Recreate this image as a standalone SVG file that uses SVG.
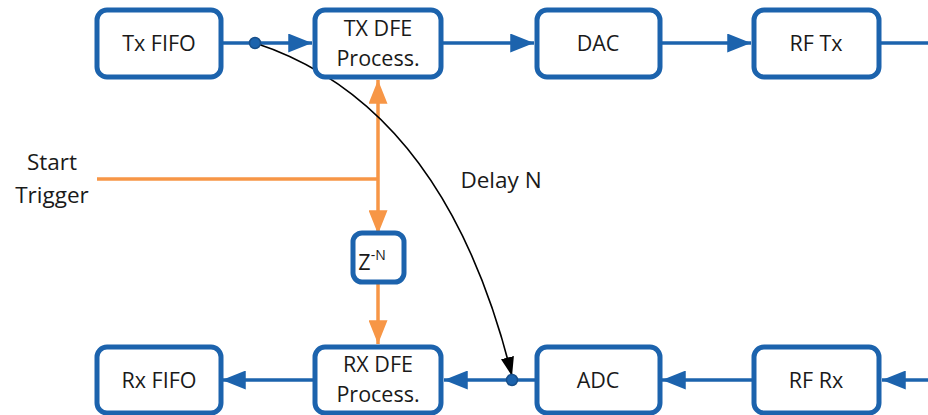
<svg xmlns="http://www.w3.org/2000/svg" width="928" height="415" viewBox="0 0 928 415">
  <style>
    .box { fill: #ffffff; stroke: #1c63ad; stroke-width: 5; }
    .lbl { font-family: "Open Sans", "Liberation Sans", sans-serif; font-size: 21.5px; fill: #1a1a1a; text-anchor: middle; }
    .big { font-size: 22.5px; }
    .blue { stroke: #1c63ad; stroke-width: 3.5; fill: none; }
    .orange { stroke: #f79646; stroke-width: 3.5; fill: none; }
    .curve { stroke: #000000; stroke-width: 1.6; fill: none; }
    .dot { fill: #1c63ad; stroke: #174f8a; stroke-width: 1.5; }
  </style>
  <defs>
    <marker id="arrBlue" viewBox="0 0 20 16" refX="20" refY="8" markerWidth="24" markerHeight="19" markerUnits="userSpaceOnUse" orient="auto">
      <path d="M0,0 L20,8 L0,16 Z" fill="#1c63ad"/>
    </marker>
    <marker id="arrOrange" viewBox="0 0 20 16" refX="20" refY="8" markerWidth="24" markerHeight="19" markerUnits="userSpaceOnUse" orient="auto">
      <path d="M0,0 L20,8 L0,16 Z" fill="#f79646"/>
    </marker>
    <marker id="arrBlack" viewBox="0 0 20 14" refX="20" refY="7" markerWidth="19" markerHeight="14" markerUnits="userSpaceOnUse" orient="auto">
      <path d="M0,0 L20,7 L0,14 Z" fill="#000000"/>
    </marker>
  </defs>

  <!-- connectors -->
  <g id="connectors">
    <!-- transmit chain -->
    <line class="blue" x1="222" y1="43" x2="312" y2="43" marker-end="url(#arrBlue)"/>
    <line class="blue" x1="442" y1="43" x2="534" y2="43" marker-end="url(#arrBlue)"/>
    <line class="blue" x1="660" y1="43" x2="751" y2="43" marker-end="url(#arrBlue)"/>
    <line class="blue" x1="880" y1="43" x2="928" y2="43"/>
    <!-- receive chain -->
    <line class="blue" x1="928" y1="380" x2="882" y2="380" marker-end="url(#arrBlue)"/>
    <line class="blue" x1="753" y1="380" x2="662" y2="380" marker-end="url(#arrBlue)"/>
    <line class="blue" x1="536" y1="380" x2="444" y2="380" marker-end="url(#arrBlue)"/>
    <line class="blue" x1="314" y1="380" x2="222" y2="380" marker-end="url(#arrBlue)"/>
    <!-- trigger distribution -->
    <line class="orange" x1="97" y1="179" x2="378" y2="179"/>
    <line class="orange" x1="378" y1="179" x2="378" y2="80" marker-end="url(#arrOrange)"/>
    <line class="orange" x1="378" y1="179" x2="378" y2="234" marker-end="url(#arrOrange)"/>
    <line class="orange" x1="378" y1="283" x2="378" y2="344" marker-end="url(#arrOrange)"/>
    <!-- loop delay -->
    <path class="curve" d="M255,43 Q445,105 512,376" marker-end="url(#arrBlack)"/>
    <circle class="dot" cx="255" cy="43" r="5.5"/>
    <circle class="dot" cx="512" cy="380" r="5.5"/>
    <text class="lbl big" x="501" y="188">Delay N</text>
    <text class="lbl big" x="52" y="170">Start</text>
    <text class="lbl big" x="52" y="203">Trigger</text>
  </g>

  <g id="tx-fifo">
    <rect class="box" x="97" y="10" width="124" height="67" rx="10"/>
    <text class="lbl" x="159" y="51">Tx FIFO</text>
  </g>
  <g id="tx-dfe">
    <rect class="box" x="315" y="10" width="126" height="67" rx="10"/>
    <text class="lbl" x="378" y="36">TX DFE</text>
    <text class="lbl" x="378" y="66">Process.</text>
  </g>
  <g id="dac">
    <rect class="box" x="537" y="10" width="123" height="67" rx="10"/>
    <text class="lbl" x="598" y="51">DAC</text>
  </g>
  <g id="rf-tx">
    <rect class="box" x="754" y="10" width="125" height="67" rx="10"/>
    <text class="lbl" x="816" y="51">RF Tx</text>
  </g>

  <g id="z-delay">
    <rect class="box" x="353" y="233" width="51" height="49" rx="9"/>
    <text class="lbl" x="372" y="270">Z<tspan dy="-10" style="font-size:14px">-N</tspan></text>
  </g>

  <g id="rx-fifo">
    <rect class="box" x="97" y="347" width="124" height="66" rx="10"/>
    <text class="lbl" x="159" y="388">Rx FIFO</text>
  </g>
  <g id="rx-dfe">
    <rect class="box" x="315" y="347" width="126" height="66" rx="10"/>
    <text class="lbl" x="378" y="372">RX DFE</text>
    <text class="lbl" x="378" y="402">Process.</text>
  </g>
  <g id="adc">
    <rect class="box" x="537" y="347" width="123" height="66" rx="10"/>
    <text class="lbl" x="598" y="388">ADC</text>
  </g>
  <g id="rf-rx">
    <rect class="box" x="754" y="347" width="125" height="66" rx="10"/>
    <text class="lbl" x="816" y="388">RF Rx</text>
  </g>
</svg>
